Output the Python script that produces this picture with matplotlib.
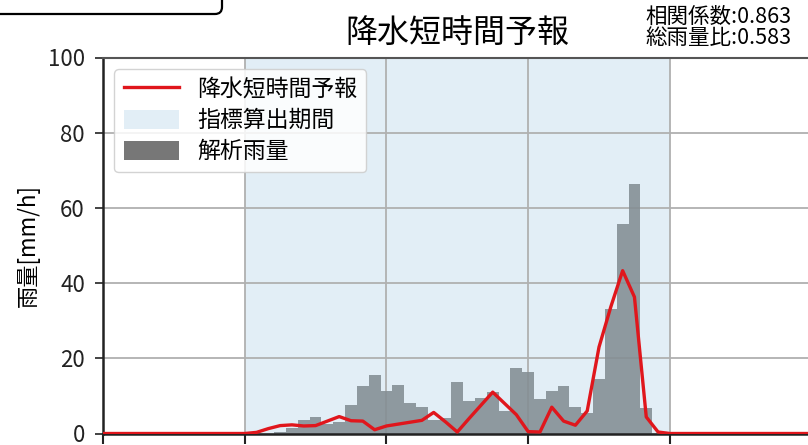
import matplotlib
matplotlib.use("Agg")
import matplotlib.pyplot as plt
from matplotlib.patches import Patch, FancyBboxPatch
from matplotlib.lines import Line2D
from matplotlib.transforms import IdentityTransform

plt.rcParams['font.family'] = ['Noto Sans CJK JP', 'DejaVu Sans']

# ---- data ----
title = "降水短時間予報"
corr_text = "相関係数:0.863"
ratio_text = "総雨量比:0.583"
ylabel = "雨量[mm/h]"
legend_labels = ["降水短時間予報", "指標算出期間", "解析雨量"]

bar_hours = list(range(0, 36))
analysis_rain = [0, 0, 0, 0.5, 1.5, 3.7, 4.3, 2.5, 3.0, 7.6,
                 12.7, 15.5, 11.3, 12.8, 8.2, 7.1, 3.5, 4.0, 13.6, 8.6,
                 9.5, 11.0, 5.9, 17.3, 16.4, 9.3, 11.3, 12.7, 7.1, 5.5,
                 14.6, 33.0, 55.7, 66.3, 6.7, 0]

line_hours = list(range(-12, 49))
forecast_rain = [0, 0, 0, 0, 0, 0, 0, 0, 0, 0, 0, 0,
                 0, 0.3, 1.3, 2.1, 2.3, 2.0, 2.1, 3.3, 4.5, 3.4,
                 3.3, 1.0, 2.0, 2.5, 3.0, 3.5, 5.6, 3.1, 0.4, 4.0,
                 7.5, 11.0, 8.0, 5.0, 0.5, 0.4, 7.0, 3.3, 2.2, 6.0,
                 23.0, 33.7, 43.3, 36.3, 4.4, 0.4, 0, 0, 0, 0,
                 0, 0, 0, 0, 0, 0, 0, 0, 0]

period_start, period_end = 0, 36
x_ticks = [-12, 0, 12, 24, 36, 48]
y_ticks = [0, 20, 40, 60, 80, 100]

# ---- figure ----
W, H = 808, 445
fig = plt.figure(figsize=(W / 100, H / 100), dpi=100)
ax = fig.add_axes([103 / W, (H - 433.5) / H, (811.6 - 103) / W, (433.5 - 57.5) / H])

shade_color = '#e2eef6'
bar_color = '#838e93'
line_color = '#e0161c'

ax.axvspan(period_start, period_end, color=shade_color, zorder=0.2, lw=0)
ax.bar(bar_hours, analysis_rain, width=1.0, color=bar_color, alpha=0.88,
       zorder=2, lw=0)
ax.plot(line_hours, forecast_rain, color=line_color, lw=2.4, zorder=3)

ax.set_xlim(-12, 48)
ax.set_ylim(0, 100)
ax.set_xticks(x_ticks)
ax.set_xticklabels([''] * len(x_ticks))
ax.set_yticks(y_ticks)
ax.tick_params(axis='y', labelsize=16, length=6, width=1.2, pad=7, colors='#222222')
ax.tick_params(axis='x', length=7, width=1.5, colors='#222222')
ax.grid(True, color='#b0b0b0', lw=1.3, zorder=0.5)
ax.set_axisbelow(True)
for side in ['left', 'bottom']:
    ax.spines[side].set_color('#222222')
    ax.spines[side].set_linewidth(1.8)
for side in ['top', 'right']:
    ax.spines[side].set_color('#555555')
    ax.spines[side].set_linewidth(1.5)

ax.set_ylabel(ylabel, fontsize=16, labelpad=6)
ax.set_title(title, fontsize=23, pad=11)

fig.text(792 / W, 1 - 17 / H, corr_text, fontsize=15.5, ha='right', va='center')
fig.text(792 / W, 1 - 38 / H, ratio_text, fontsize=15.5, ha='right', va='center')

handles = [Line2D([0], [0], color=line_color, lw=2.4),
           Patch(facecolor=shade_color, edgecolor='none'),
           Patch(facecolor='#777777', edgecolor='none')]
leg = ax.legend(handles, legend_labels, loc='upper left', fontsize=16.5,
                handlelength=2.4, handleheight=0.9, labelspacing=0.35,
                fancybox=True, framealpha=0.85)
leg.get_frame().set_edgecolor('#cccccc')

# partially visible box at top-left (cropped)
box = FancyBboxPatch((-20, H - 14), 242, 60,
                     boxstyle='round,pad=0,rounding_size=7',
                     transform=IdentityTransform(), facecolor='white',
                     edgecolor='black', lw=1.6)
fig.add_artist(box)

fig.savefig('out.png', dpi=100)
